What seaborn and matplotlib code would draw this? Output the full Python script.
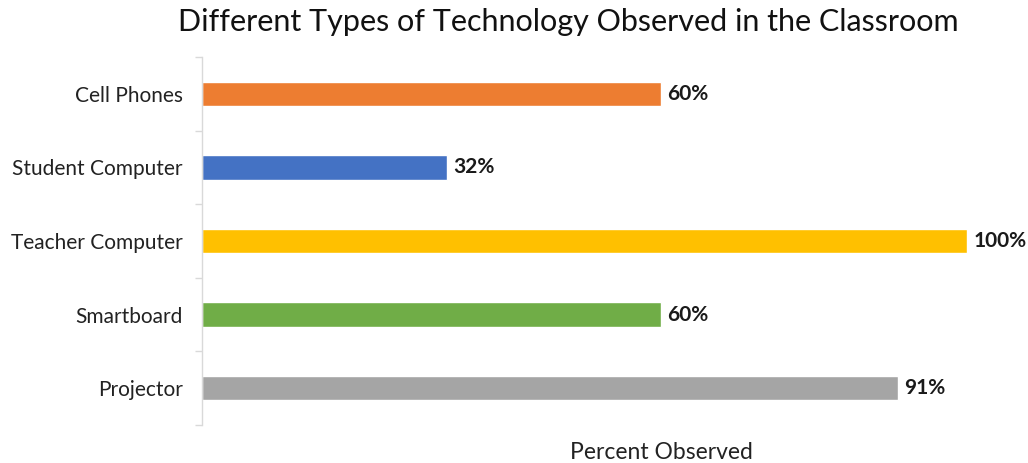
import matplotlib
matplotlib.use("Agg")
import matplotlib.pyplot as plt
import seaborn as sns
import pandas as pd
import numpy as np

# data
categories = ["Cell Phones", "Student Computer", "Teacher Computer", "Smartboard", "Projector"]
percent = [60, 32, 100, 60, 91]
colors = ["#ED7D31", "#4472C4", "#FFC000", "#70AD47", "#A5A5A5"]

df = pd.DataFrame({"category": categories, "percent": percent})

sns.set_style("white")
plt.rcParams["font.family"] = ["Lato", "DejaVu Sans"]

fig = plt.figure(figsize=(10.28, 4.63), dpi=100)
ax = fig.add_axes([0.1965, 0.082, 0.7442, 0.795])

sns.barplot(data=df, x="percent", y="category", hue="category", palette=colors,
            orient="h", width=0.33, saturation=1, legend=False, ax=ax)

ax.set_xlim(0, 100)
ax.set_ylim(len(categories) - 0.5, -0.5)

# value labels at bar ends
for i, v in enumerate(percent):
    ax.text(v + 0.8, i, f"{v}%", va="center", ha="left", fontsize=15,
            fontweight="bold", color="#1a1a1a")

# axis styling
for s in ["top", "right", "bottom"]:
    ax.spines[s].set_visible(False)
ax.spines["left"].set_color("#d9d9d9")
ax.spines["left"].set_linewidth(1)
ax.set_xticks([])
ax.set_ylabel("")
ax.tick_params(axis="y", which="major", left=False, length=0, pad=14, labelsize=15, labelcolor="#222222")
ax.set_yticks(np.arange(-0.5, len(categories), 1), minor=True)
ax.tick_params(axis="y", which="minor", left=True, length=5, color="#d9d9d9", width=1)

ax.set_xlabel("Percent Observed", fontsize=16.5, color="#222222")
ax.xaxis.set_label_coords(0.6, -0.045)

fig.text(0.553, 0.952, "Different Types of Technology Observed in the Classroom",
         ha="center", va="center", fontsize=22, color="#111111")

fig.savefig("out.png", dpi=100)
